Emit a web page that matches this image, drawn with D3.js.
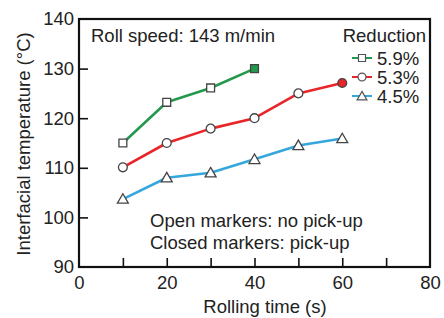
<!DOCTYPE html>
<html><head><meta charset="utf-8">
<script src="https://cdn.jsdelivr.net/npm/d3@7"></script>
<style>html,body{margin:0;padding:0;background:#fff;}svg{display:block;font-family:"Liberation Sans",Arial,sans-serif;}</style>
</head><body>
<svg id="c" width="444" height="318"></svg>
<script>
const times = [10, 20, 30, 40, 50, 60];
const seriesNames = ["5.9%", "5.3%", "4.5%"];
const temps59 = [115, 123.2, 126.1, 130];
const temps53 = [110.1, 115, 117.9, 120, 125, 127.1];
const temps45 = [103.7, 108, 109, 111.7, 114.5, 115.9];
const closedIndex = [3, 5, -1];
const xTicks = [0, 20, 40, 60, 80];
const yTicks = [90, 100, 110, 120, 130, 140];
const colors = ["#24994d", "#e8262a", "#35a7dd"];
const shapes = [d3.symbolSquare, d3.symbolCircle, d3.symbolTriangle];
const symSizes = [62, 62, 52];

const svg = d3.select("#c");
const L = 79, R = 430, T = 19, B = 267;
const x = d3.scaleLinear().domain([0, 80]).range([L, R]);
const y = d3.scaleLinear().domain([90, 140]).range([B, T]);
const fs = 18.5;

// inner ticks
svg.append("g").attr("transform", `translate(0,${B})`)
  .call(d3.axisBottom(x).tickValues([10,20,30,40,50,60,70]).tickSizeInner(-9).tickSizeOuter(0).tickFormat(""))
  .call(g => g.select(".domain").remove())
  .call(g => g.selectAll("line").attr("stroke", "#111").attr("stroke-width", 1.6));
svg.append("g").attr("transform", `translate(${L},0)`)
  .call(d3.axisLeft(y).tickValues([100,110,120,130]).tickSizeInner(-9).tickSizeOuter(0).tickFormat(""))
  .call(g => g.select(".domain").remove())
  .call(g => g.selectAll("line").attr("stroke", "#111").attr("stroke-width", 1.6));

// tick labels
svg.append("g").attr("transform", `translate(0,${B})`)
  .call(d3.axisBottom(x).tickValues(xTicks).tickSize(0).tickPadding(9).tickFormat(d3.format("d")))
  .call(g => g.select(".domain").remove())
  .call(g => g.selectAll("text").attr("font-size", fs).attr("fill", "#222").attr("font-family", "Liberation Sans, Arial, sans-serif"));
svg.append("g").attr("transform", `translate(${L},0)`)
  .call(d3.axisLeft(y).tickValues(yTicks).tickSize(0).tickPadding(5).tickFormat(d3.format("d")))
  .call(g => g.select(".domain").remove())
  .call(g => g.selectAll("text").attr("font-size", fs).attr("fill", "#222").attr("font-family", "Liberation Sans, Arial, sans-serif"));

// frame
svg.append("rect").attr("x", L).attr("y", T).attr("width", R - L).attr("height", B - T)
  .attr("fill", "none").attr("stroke", "#111").attr("stroke-width", 2.2);

// axis titles
svg.append("text").attr("x", 265).attr("y", 313).attr("text-anchor", "middle")
  .attr("font-size", fs).attr("fill", "#222").text("Rolling time (s)");
svg.append("text").attr("transform", `translate(30,${(T + B) / 2 + 1}) rotate(-90)`).attr("text-anchor", "middle")
  .attr("font-size", fs).attr("fill", "#222").text("Interfacial temperature (°C)");

// series
const data = [temps59, temps53, temps45];
const line = d3.line().x((d, i) => x(times[i])).y(d => y(d));
data.forEach((vals, s) => {
  svg.append("path").datum(vals).attr("d", line).attr("fill", "none")
    .attr("stroke", colors[s]).attr("stroke-width", 2.6).attr("stroke-linejoin", "round");
  svg.selectAll(null).data(vals).enter().append("path")
    .attr("d", d3.symbol().type(shapes[s]).size(symSizes[s]))
    .attr("transform", (d, i) => `translate(${x(times[i])},${y(d) + (s === 2 ? 1 : 0)})`)
    .attr("fill", (d, i) => i === closedIndex[s] ? colors[s] : "#fff")
    .attr("stroke", "#444").attr("stroke-width", 1.3);
});

// annotation
svg.append("text").attr("x", 91).attr("y", 42).attr("font-size", fs).attr("fill", "#222").text("Roll speed: 143 m/min");
svg.append("text").attr("x", 150).attr("y", 227).attr("font-size", fs).attr("fill", "#222").text("Open markers: no pick-up");
svg.append("text").attr("x", 150).attr("y", 249).attr("font-size", fs).attr("fill", "#222").text("Closed markers: pick-up");

// legend
svg.append("text").attr("x", 426).attr("y", 42).attr("text-anchor", "end").attr("font-size", fs).attr("fill", "#222").text("Reduction");
seriesNames.forEach((nm, s) => {
  const cy = 58 + s * 19;
  svg.append("line").attr("x1", 352).attr("x2", 372).attr("y1", cy).attr("y2", cy)
    .attr("stroke", colors[s]).attr("stroke-width", 2);
  svg.append("path").attr("d", d3.symbol().type(shapes[s]).size(symSizes[s] * 0.8))
    .attr("transform", `translate(362,${cy + (s === 2 ? 1 : 0)})`)
    .attr("fill", "#fff").attr("stroke", "#555").attr("stroke-width", 1.2);
  svg.append("text").attr("x", 377).attr("y", cy + 6.5).attr("font-size", fs).attr("fill", "#222").text(nm);
});
</script>
</body></html>
